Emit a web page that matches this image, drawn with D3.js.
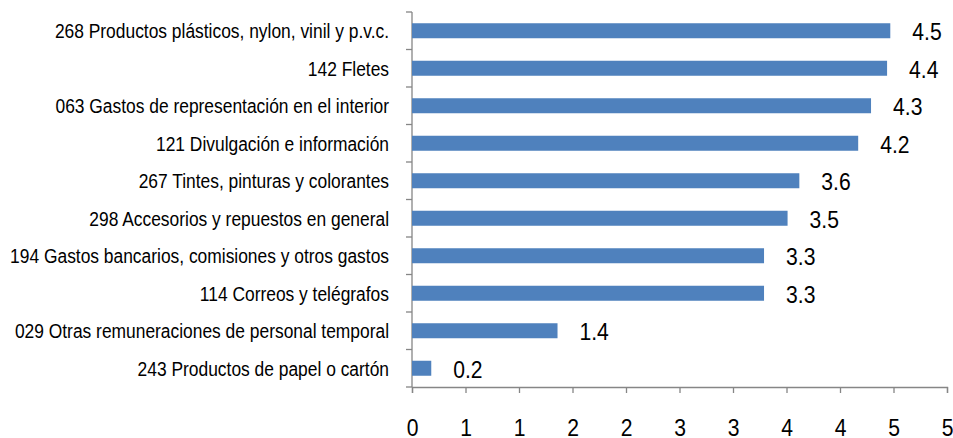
<!DOCTYPE html>
<html>
<head>
<meta charset="utf-8">
<script src="https://cdn.jsdelivr.net/npm/d3@7"></script>
<style>
  body { margin: 0; background: #fff; }
  text { font-family: "Liberation Sans Narrow", "Arial Narrow", "Liberation Sans", Arial, sans-serif; fill: #000; }
</style>
</head>
<body>
<svg width="953" height="438"></svg>
<script>
var categories = [
  "268 Productos plásticos, nylon, vinil y p.v.c.",
  "142 Fletes",
  "063 Gastos de representación en el interior",
  "121 Divulgación e información",
  "267 Tintes, pinturas y colorantes",
  "298 Accesorios y repuestos en general",
  "194 Gastos bancarios, comisiones y otros gastos",
  "114 Correos y telégrafos",
  "029 Otras remuneraciones de personal temporal",
  "243 Productos de papel o cartón"
]
var values = [4.47, 4.44, 4.29, 4.17, 3.62, 3.51, 3.29, 3.29, 1.36, 0.18]
var xTicks = [0, 0.5, 1, 1.5, 2, 2.5, 3, 3.5, 4, 4.5, 5]
var xTickLabels = ["0", "1", "1", "2", "2", "3", "3", "4", "4", "5", "5"]

var svg = d3.select("svg"),
    marginLeft = 412, marginTop = 12,
    width = 535, height = 375,
    narrowCat = 0.87,   // squeeze to look like Arial Narrow
    narrowNum = 0.88

var xScale = d3.scaleLinear().domain([0, 5]).range([0, width])
var yScale = d3.scaleBand().domain(categories).range([0, height])
    .paddingInner(0.6).paddingOuter(0.3)

var g = svg.append("g")
    .attr("transform", "translate(" + marginLeft + "," + marginTop + ")")

// x axis
var xAxis = g.append("g")
    .attr("transform", "translate(0," + height + ")")
    .call(d3.axisBottom(xScale).tickValues(xTicks).tickSize(6)
      .tickFormat(function(d, i) { return xTickLabels[i] }))
xAxis.select(".domain").attr("stroke", "#868686").attr("stroke-width", 1.3)
xAxis.selectAll(".tick line").attr("stroke", "#868686").attr("stroke-width", 1.3)
xAxis.selectAll(".tick text")
    .attr("y", 0).attr("dy", null)
    .attr("transform", "translate(0,49) scale(" + narrowNum + ",1)")
    .style("font-size", "24px").attr("fill", "#000")

// y axis: line with ticks at band boundaries
g.append("line")
    .attr("x1", 0).attr("x2", 0).attr("y1", 0).attr("y2", height)
    .attr("stroke", "#868686").attr("stroke-width", 1.3)

var step = yScale.step()
g.selectAll(".ytick")
    .data(d3.range(categories.length + 1))
    .enter()
    .append("line")
    .attr("x1", -6).attr("x2", 0)
    .attr("y1", function(i) { return i * step })
    .attr("y2", function(i) { return i * step })
    .attr("stroke", "#868686").attr("stroke-width", 1.3)

g.selectAll(".cat")
    .data(categories)
    .enter()
    .append("text")
    .attr("transform", function(d) {
      return "translate(-23," + (yScale(d) + yScale.bandwidth() / 2 + 7.5) + ") scale(" + narrowCat + ",1)"
    })
    .attr("text-anchor", "end")
    .style("font-size", "20px")
    .text(function(d) { return d })

// bars
g.selectAll(".bar")
    .data(values)
    .enter()
    .append("rect")
    .attr("x", 0)
    .attr("y", function(d, i) { return yScale(categories[i]) })
    .attr("width", function(d) { return xScale(d) })
    .attr("height", yScale.bandwidth())
    .attr("fill", "#4F81BD")

g.selectAll(".val")
    .data(values)
    .enter()
    .append("text")
    .attr("transform", function(d, i) {
      return "translate(" + (xScale(d) + 22) + "," + (yScale(categories[i]) + yScale.bandwidth() / 2 + 9.5) + ") scale(" + narrowNum + ",1)"
    })
    .style("font-size", "24px")
    .text(function(d) { return d3.format(".1f")(d) })
</script>
</body>
</html>
